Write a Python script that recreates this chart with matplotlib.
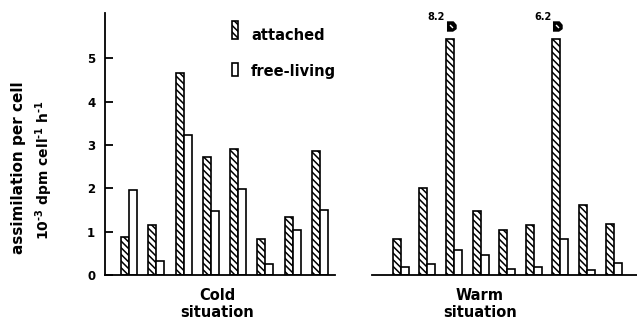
import numpy as np
import matplotlib
matplotlib.use("Agg")
import matplotlib.pyplot as plt
from matplotlib.patches import Rectangle

plt.rcParams["font.family"] = ["DejaVu Sans"]
plt.rcParams["font.weight"] = "bold"
plt.rcParams["mathtext.default"] = "regular"
plt.rcParams["hatch.linewidth"] = 1.1

# assimilation per cell, 10^-3 dpm cell^-1 h^-1
cold_attached = [0.88, 1.16, 4.65, 2.72, 2.9, 0.84, 1.35, 2.87]
cold_free = [1.96, 0.33, 3.22, 1.47, 1.98, 0.27, 1.05, 1.5]
warm_attached = [0.83, 2.01, 8.2, 1.47, 1.04, 1.16, 6.2, 1.61, 1.19]
warm_free = [0.2, 0.26, 0.58, 0.47, 0.15, 0.18, 0.84, 0.12, 0.28]
y_ticks = [0, 1, 2, 3, 4, 5]
panel_labels = ["Cold\nsituation", "Warm\nsituation"]

Y_MAX = 6.04
CLIP = 5.45  # broken bars are drawn to this height
W, H = 637, 320

fig = plt.figure(figsize=(W / 100, H / 100), dpi=100)
ax_l = fig.add_axes([105 / W, 1 - 275.3 / H, 230 / W, (275.3 - 13) / H])
ax_r = fig.add_axes([372 / W, 1 - 275.3 / H, 265 / W, (275.3 - 13) / H])

CAP = [(-1, 1), (0.4, 1), (1, 0.3), (1, -0.5), (0.3, -1), (-1, -1)]


def draw_pairs(ax, att, free, px_per_unit):
    x = np.arange(len(att))
    bw = 8.0 / px_per_unit
    shown = np.minimum(att, CLIP)
    ax.bar(x - bw / 2, shown, bw, facecolor="white", edgecolor="black",
           linewidth=1.2, hatch="\\\\\\\\\\")
    ax.bar(x + bw / 2, free, bw, facecolor="white", edgecolor="black",
           linewidth=1.2)
    for xi, v in zip(x, att):
        if v > CLIP:
            ax.plot(xi - bw / 2 + 0.03, CLIP + 0.29, marker=CAP, markersize=6.5,
                    color="black", clip_on=False)
            ax.plot(xi - bw / 2 + 0.03, CLIP + 0.29, marker=(2, 0, 45), markersize=3,
                    markeredgecolor="white", markeredgewidth=1, clip_on=False)
            ax.text(xi - bw - 0.03, CLIP + 0.39, f"{v:.1f}", ha="right",
                    va="bottom", fontsize=7, fontweight="bold")
    return x


for ax in (ax_l, ax_r):
    ax.set_ylim(0, Y_MAX)
    for s in ("top", "right"):
        ax.spines[s].set_visible(False)
    ax.spines["bottom"].set_linewidth(1.3)
    ax.set_xticks([])

draw_pairs(ax_l, cold_attached, cold_free, 27.3)
ax_l.set_xlim(-0.88, 7.55)
ax_l.spines["left"].set_linewidth(1.3)
ax_l.set_yticks(y_ticks)
ax_l.set_yticklabels([str(t) for t in y_ticks], fontsize=8.5, fontweight="bold")
ax_l.tick_params(axis="y", direction="in", length=6, width=1.3, pad=7)

draw_pairs(ax_r, warm_attached, warm_free, 26.6)
ax_r.set_xlim(-1.08, 8.88)
ax_r.spines["left"].set_visible(False)
ax_r.set_yticks([])

# legend
fig.patches.append(Rectangle((231.5 / W, 1 - 39 / H), 6 / W, 18 / H, transform=fig.transFigure,
                             facecolor="white", edgecolor="black", linewidth=1.2,
                             hatch="\\\\\\\\\\"))
fig.patches.append(Rectangle((231.5 / W, 1 - 76 / H), 6 / W, 13 / H, transform=fig.transFigure,
                             facecolor="white", edgecolor="black", linewidth=1.2))
fig.text(251 / W, 1 - 40 / H, "attached", fontsize=10.5, fontweight="bold", va="baseline")
fig.text(251 / W, 1 - 76 / H, "free-living", fontsize=10.5, fontweight="bold", va="baseline")

# axis labels
fig.text(19 / W, 1 - 168 / H, "assimilation per cell", rotation=90, ha="center",
         va="center", fontsize=11, fontweight="bold")
fig.text(44 / W, 1 - 170 / H, "$10^{\u20103}$ dpm cell$^{\u20101}$ h$^{\u20101}$", rotation=90,
         ha="center", va="center", fontsize=10, fontweight="bold")

fig.text(217 / W, 1 - 304 / H, panel_labels[0], ha="center", va="center",
         fontsize=10.5, fontweight="bold", linespacing=1.1)
fig.text(480 / W, 1 - 304 / H, panel_labels[1], ha="center", va="center",
         fontsize=10.5, fontweight="bold", linespacing=1.1)

fig.savefig("out.png", dpi=100, facecolor="white")
